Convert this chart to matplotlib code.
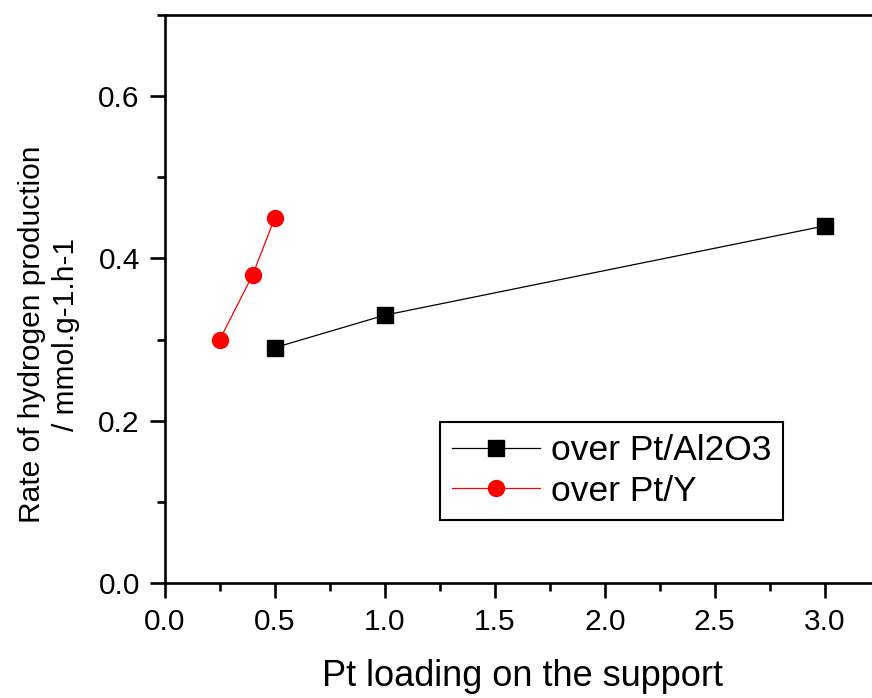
import numpy as np
import matplotlib.pyplot as plt
from matplotlib.ticker import MultipleLocator

plt.rcParams['font.family'] = ['Liberation Sans', 'DejaVu Sans']

# data
al_x = [0.5, 1.0, 3.0]
al_y = [0.29, 0.33, 0.44]
y_x = [0.25, 0.4, 0.5]
y_y = [0.30, 0.38, 0.45]

fig = plt.figure(figsize=(8.72, 6.98), dpi=100)
# axes runs past the right edge of the figure, like the original
ax = fig.add_axes([0.189, 0.1648, 0.883, 0.8138])

ax.plot(al_x, al_y, color="black", lw=0.9, marker="s", ms=11,
        label="over Pt/Al2O3")
ax.plot(y_x, y_y, color="red", lw=0.9, marker="o", ms=11.5,
        label="over Pt/Y")

ax.set_xlim(0, 3.5)
ax.set_ylim(0, 0.7)
ax.xaxis.set_major_locator(MultipleLocator(0.5))
ax.xaxis.set_minor_locator(MultipleLocator(0.25))
ax.yaxis.set_major_locator(MultipleLocator(0.2))
ax.yaxis.set_minor_locator(MultipleLocator(0.1))
ax.set_xticks([0, 0.5, 1.0, 1.5, 2.0, 2.5, 3.0])

for s in ax.spines.values():
    s.set_linewidth(1.9)
ax.tick_params(which="major", direction="out", length=11, width=1.9,
               labelsize=21.5, pad=7)
ax.tick_params(which="minor", direction="out", length=6, width=1.9)
ax.tick_params(top=False, right=False, which="both")

ax.set_xlabel("Pt loading on the support", fontsize=26)
ax.xaxis.set_label_coords(0.465, -0.133)
ax.set_ylabel("Rate of hydrogen production\n/ mmol.g-1.h-1", fontsize=21.5,
              linespacing=1.3)
ax.yaxis.set_label_coords(-0.11, 0.437)

leg = ax.legend(loc="upper left", bbox_to_anchor=(0.357, 0.2835),
                borderaxespad=0, fontsize=25.5, fancybox=False,
                edgecolor="black", framealpha=1, handlelength=2.5,
                handletextpad=0.3, borderpad=0.34, labelspacing=0.22)
leg.get_frame().set_linewidth(1.5)

fig.savefig("out.png", dpi=100)
